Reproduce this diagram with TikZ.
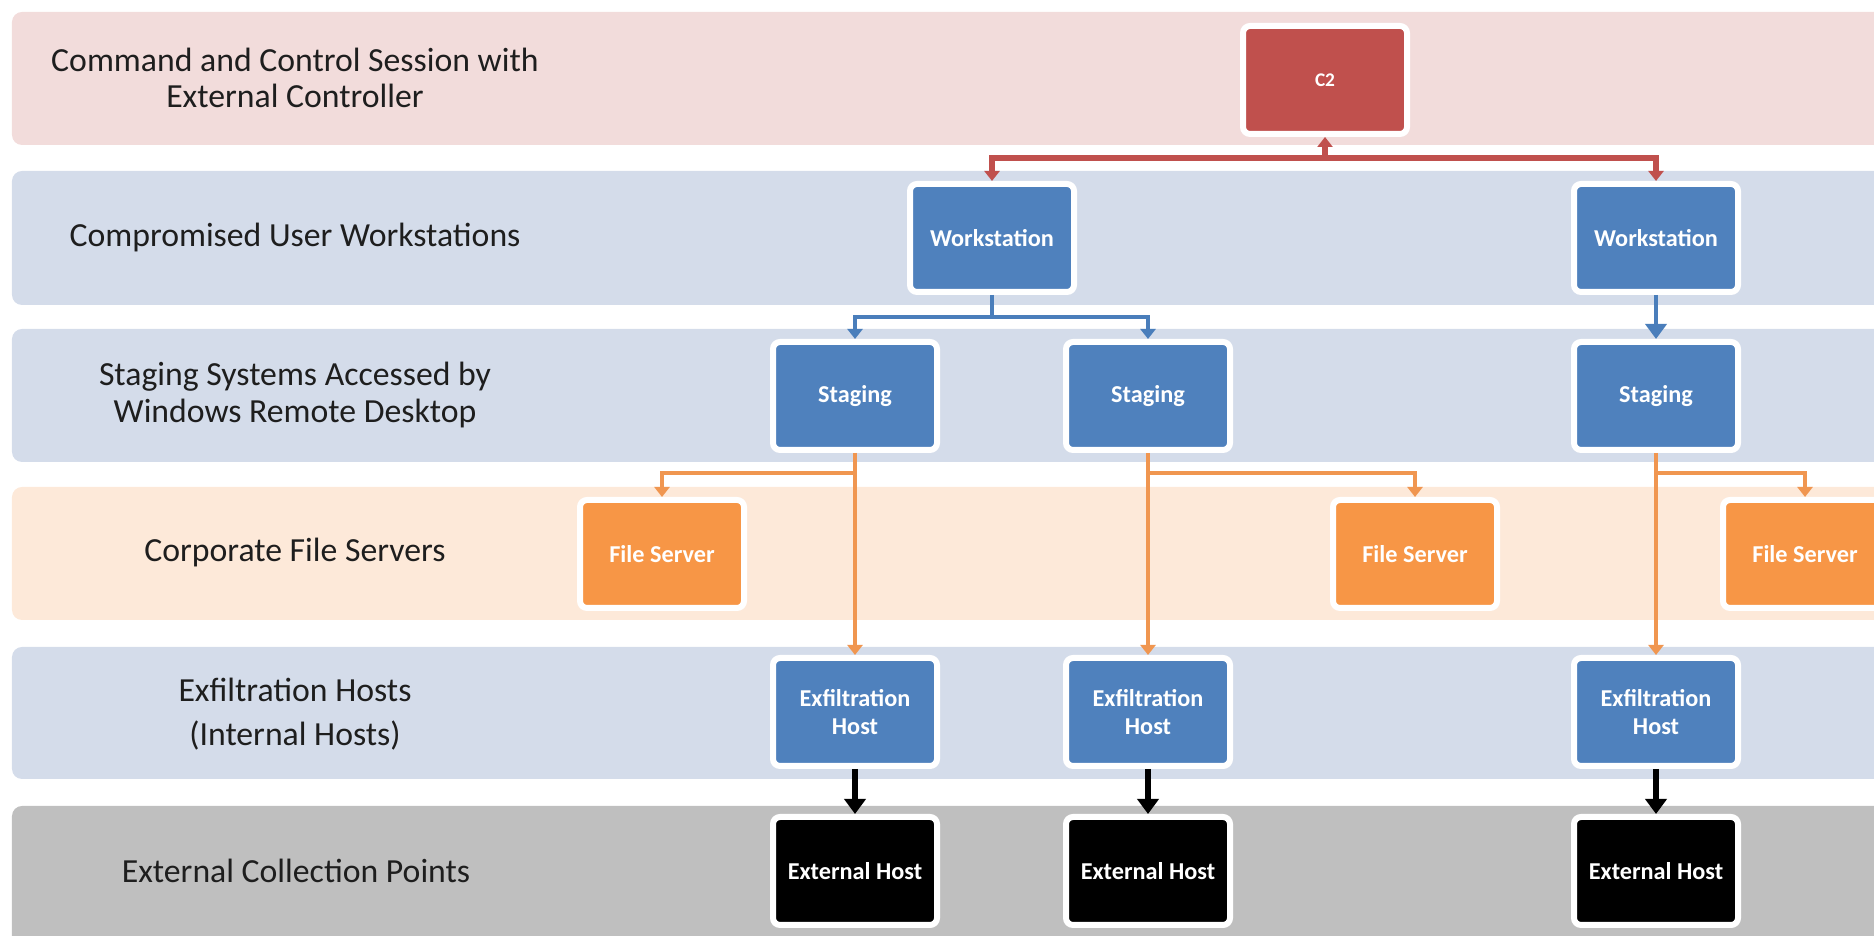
\documentclass[tikz,border=0pt]{standalone}
\usepackage{fontspec}
\setmainfont{Carlito}
\usetikzlibrary{arrows.meta}

\tikzset{
  band/.style={rounded corners=0.1cm},
  bandlabel/.style={align=center, text=r30g30b30, font=\fontsize{9.6}{10.4}\selectfont},
  hostbox/.style={draw=white, line width=0.06cm, rounded corners=0.07cm,
    minimum width=1.64cm, minimum height=1.08cm, inner sep=1pt, align=center,
    text=white, font=\fontsize{6.9}{7.8}\selectfont\bfseries},
  smalltip/.tip={Triangle[width=0.15cm,length=0.1cm]},
  bigtip/.tip={Triangle[width=0.21cm,length=0.15cm]},
  redline/.style={draw=r192g80b77, line width=0.055cm},
  blueline/.style={draw=r74g126b187, line width=0.038cm},
  orgline/.style={draw=r240g150b80, line width=0.048cm},
  blkline/.style={draw=black, line width=0.065cm, -bigtip}
}

\begin{document}
\begin{tikzpicture}
  \useasboundingbox (0,0) rectangle (18.74,9.36);
  \clip (0,0) rectangle (18.74,9.36);

  % Changing colors
  \definecolor{r242g220b219}{RGB}{242,220,219}%
  \definecolor{r212g220b234}{RGB}{212,220,234}%
  \definecolor{r253g233b217}{RGB}{253,233,217}%
  \definecolor{r191g191b191}{RGB}{191,191,191}%
  \definecolor{r192g80b77}{RGB}{192,80,77}%
  \definecolor{r79g129b189}{RGB}{79,129,189}%
  \definecolor{r74g126b187}{RGB}{74,126,187}%
  \definecolor{r247g150b70}{RGB}{247,150,70}%
  \definecolor{r240g150b80}{RGB}{240,150,80}%
  \definecolor{r30g30b30}{RGB}{30,30,30}%

  % Filling bands
  \fill[band, r242g220b219] (0.12,7.91) rectangle (19.00,9.24);
  \fill[band, r212g220b234] (0.12,6.31) rectangle (19.00,7.65);
  \fill[band, r212g220b234] (0.12,4.74) rectangle (19.00,6.07);
  \fill[band, r253g233b217] (0.12,3.16) rectangle (19.00,4.49);
  \fill[band, r212g220b234] (0.12,1.57) rectangle (19.00,2.89);
  \fill[band, r191g191b191] (0.12,-0.10) rectangle (19.00,1.30);

  % Band labels
  \node[bandlabel] (lblctrl) at (2.95,8.58) {Command and Control Session with\\External Controller};
  \node[bandlabel] (lblws) at (2.95,6.98) {Compromised User Workstations};
  \node[bandlabel] (lblstage) at (2.95,5.41) {Staging Systems Accessed by\\Windows Remote Desktop};
  \node[bandlabel] (lblfile) at (2.95,3.83) {Corporate File Servers};
  \node[bandlabel] (lblexfil) at (2.95,2.22) {Exfiltration Hosts\\[0.08cm](Internal Hosts)};
  \node[bandlabel] (lblext) at (2.96,0.65) {External Collection Points};

  % Command and control
  \node[hostbox, fill=r192g80b77, font=\fontsize{5.5}{6.5}\selectfont\bfseries] (c2) at (13.25,8.56) {C2};

  % Workstations
  \node[hostbox, fill=r79g129b189] (ws1) at (9.92,6.98) {Workstation};
  \node[hostbox, fill=r79g129b189] (ws2) at (16.56,6.98) {Workstation};

  % Staging systems
  \node[hostbox, fill=r79g129b189] (st1) at (8.55,5.40) {Staging};
  \node[hostbox, fill=r79g129b189] (st2) at (11.48,5.40) {Staging};
  \node[hostbox, fill=r79g129b189] (st3) at (16.56,5.40) {Staging};

  % File servers
  \node[hostbox, fill=r247g150b70] (fs1) at (6.62,3.82) {File Server};
  \node[hostbox, fill=r247g150b70] (fs2) at (14.15,3.82) {File Server};
  \node[hostbox, fill=r247g150b70] (fs3) at (18.05,3.82) {File Server};

  % Exfiltration hosts
  \node[hostbox, fill=r79g129b189] (ex1) at (8.55,2.24) {Exfiltration\\Host};
  \node[hostbox, fill=r79g129b189] (ex2) at (11.48,2.24) {Exfiltration\\Host};
  \node[hostbox, fill=r79g129b189] (ex3) at (16.56,2.24) {Exfiltration\\Host};

  % External hosts
  \node[hostbox, fill=black] (eh1) at (8.55,0.65) {External Host};
  \node[hostbox, fill=black] (eh2) at (11.48,0.65) {External Host};
  \node[hostbox, fill=black] (eh3) at (16.56,0.65) {External Host};

  % Bus points
  \coordinate (redbus) at (13.25,7.78);
  \coordinate (bluebus) at (9.92,6.19);
  \coordinate (orgbus1) at (8.55,4.63);
  \coordinate (orgbus2) at (11.48,4.63);
  \coordinate (orgbus3) at (16.56,4.63);

  % Drawing red connectors C2 -- workstations
  \draw[redline, smalltip-smalltip] (ws1.north) |- (redbus) -- (c2.south);
  \draw[redline, -smalltip] (redbus) -| (ws2.north);

  % Drawing blue connectors workstations -- staging
  \draw[blueline, -smalltip] (ws1.south) -- (bluebus) -| (st1.north);
  \draw[blueline, -smalltip] (bluebus) -| (st2.north);
  \draw[blueline, -bigtip] (ws2.south) -- (st3.north);

  % Drawing orange connectors staging -- file servers, exfiltration
  \draw[orgline, -smalltip] (st1.south) -- (ex1.north);
  \draw[orgline, -smalltip] (orgbus1) -| (fs1.north);
  \draw[orgline, -smalltip] (st2.south) -- (ex2.north);
  \draw[orgline, -smalltip] (orgbus2) -| (fs2.north);
  \draw[orgline, -smalltip] (st3.south) -- (ex3.north);
  \draw[orgline, -smalltip] (orgbus3) -| (fs3.north);

  % Drawing black connectors exfiltration -- external
  \draw[blkline] (ex1.south) -- (eh1.north);
  \draw[blkline] (ex2.south) -- (eh2.north);
  \draw[blkline] (ex3.south) -- (eh3.north);
\end{tikzpicture}
\end{document}
